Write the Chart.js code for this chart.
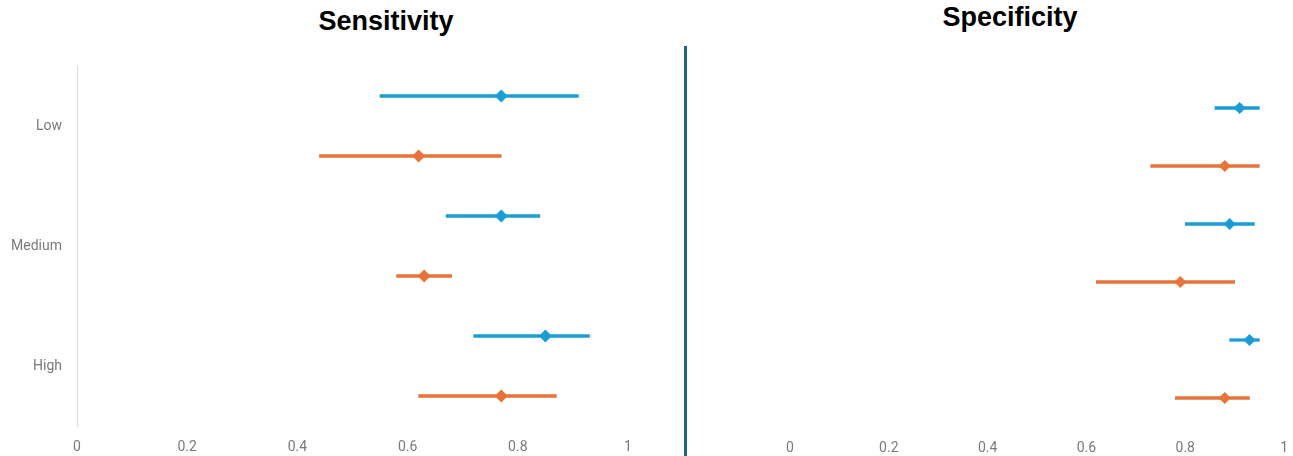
<!DOCTYPE html>
<html>
<head>
<meta charset="utf-8">
<script src="https://cdn.jsdelivr.net/npm/chart.js@4/dist/chart.umd.min.js"></script>
<style>
  html, body { margin: 0; padding: 0; background: #ffffff; }
  body { width: 1293px; height: 456px; position: relative; overflow: hidden; font-family: "Liberation Sans", Arial, sans-serif; }
  .panel { position: absolute; top: 0; height: 456px; }
  .title { position: absolute; font-weight: bold; font-size: 27px; color: #000; white-space: nowrap; transform: translateX(-50%); line-height: 30px; }
  .divider { position: absolute; left: 684px; top: 46px; width: 3px; height: 410px; background: #1f6391; }
</style>
</head>
<body>
<div class="title" style="left:386px; top:6px;">Sensitivity</div>
<div class="title" style="left:1010px; top:2px;">Specificity</div>
<div class="divider"></div>
<div class="panel" style="left:0; width:680px;"><canvas id="sens"></canvas></div>
<div class="panel" style="left:690px; width:603px;"><canvas id="spec"></canvas></div>
<script>
// Risk groups on the vertical axis
const categories = ['Low', 'Medium', 'High'];
const xTicks = [0, 0.2, 0.4, 0.6, 0.8, 1];

// Sensitivity: point estimate with lower / upper bounds
const sensBlue      = [0.77, 0.77, 0.85];
const sensBlueLow   = [0.55, 0.67, 0.72];
const sensBlueHigh  = [0.91, 0.84, 0.93];
const sensOrange     = [0.62, 0.63, 0.77];
const sensOrangeLow  = [0.44, 0.58, 0.62];
const sensOrangeHigh = [0.77, 0.68, 0.87];

// Specificity: point estimate with lower / upper bounds
const specBlue      = [0.91, 0.89, 0.93];
const specBlueLow   = [0.86, 0.80, 0.89];
const specBlueHigh  = [0.95, 0.94, 0.95];
const specOrange     = [0.88, 0.79, 0.88];
const specOrangeLow  = [0.73, 0.62, 0.78];
const specOrangeHigh = [0.95, 0.90, 0.93];

const BLUE = '#1a9cd6';
const ORANGE = '#e8733a';
const TICK_COLOR = '#7a7a7a';
const TICK_FONT = { family: 'Roboto, "Open Sans", sans-serif', size: 14 };

// Each group occupies two rows: first series above, second below the label
const rowPos = (i, k) => 2 * i + 0.5 + k;

function intervals(lo, hi, k) {
  return categories.map((_, i) => ({ x: [lo[i], hi[i]], y: rowPos(i, k) }));
}
function points(v, k) {
  return categories.map((_, i) => ({ x: v[i], y: rowPos(i, k) }));
}

function makeChart(id, cfg) {
  const d = cfg.data;
  return new Chart(document.getElementById(id), {
    type: 'bar',
    data: {
      datasets: [
        { data: intervals(d.bLo, d.bHi, 0), backgroundColor: BLUE, barThickness: 2.6, grouped: false, order: 2 },
        { data: intervals(d.oLo, d.oHi, 1), backgroundColor: ORANGE, barThickness: 2.6, grouped: false, order: 2 },
        { type: 'scatter', data: points(d.b, 0), backgroundColor: BLUE, borderWidth: 0,
          pointStyle: 'rectRot', pointRadius: cfg.r, order: 1 },
        { type: 'scatter', data: points(d.o, 1), backgroundColor: ORANGE, borderWidth: 0,
          pointStyle: 'rectRot', pointRadius: cfg.r, order: 1 }
      ]
    },
    options: {
      indexAxis: 'y',
      responsive: true,
      maintainAspectRatio: false,
      animation: false,
      layout: { padding: cfg.padding },
      plugins: { legend: { display: false }, tooltip: { enabled: false } },
      scales: {
        x: {
          type: 'linear', min: 0, max: 1,
          grid: { display: false },
          border: { display: false },
          afterBuildTicks: s => { s.ticks = xTicks.map(v => ({ value: v })); },
          afterFit: s => { s.height = cfg.xHeight; },
          ticks: { color: TICK_COLOR, font: TICK_FONT, padding: 5, maxRotation: 0,
                   callback: v => String(v) }
        },
        y: {
          type: 'linear', min: 0, max: 6, reverse: true, offset: false,
          grid: { display: false, offset: false },
          border: { display: cfg.showLabels, color: '#d9d9d9', width: 1 },
          afterBuildTicks: s => { s.ticks = categories.map((_, i) => ({ value: 2 * i + 1 })); },
          afterFit: s => { s.width = cfg.yWidth; },
          ticks: { display: cfg.showLabels, color: TICK_COLOR, font: TICK_FONT, padding: 7,
                   callback: v => categories[(v - 1) / 2] }
        }
      }
    }
  });
}

makeChart('sens', {
  data: { b: sensBlue, bLo: sensBlueLow, bHi: sensBlueHigh, o: sensOrange, oLo: sensOrangeLow, oHi: sensOrangeHigh },
  r: 6.5, padding: { top: 66, right: 52, left: 0, bottom: 0 }, xHeight: 30, yWidth: 77, showLabels: true
});
makeChart('spec', {
  data: { b: specBlue, bLo: specBlueLow, bHi: specBlueHigh, o: specOrange, oLo: specOrangeLow, oHi: specOrangeHigh },
  r: 6, padding: { top: 79, right: 7, left: 0, bottom: 0 }, xHeight: 29, yWidth: 100, showLabels: false
});
</script>
</body>
</html>
